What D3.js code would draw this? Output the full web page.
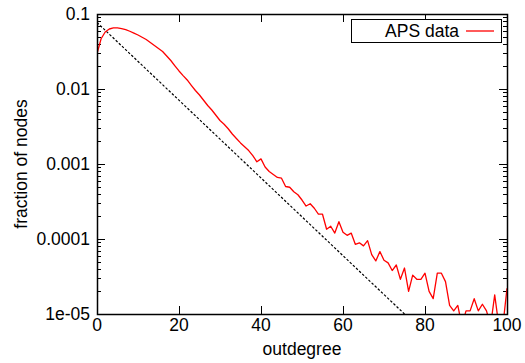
<!DOCTYPE html>
<html>
<head>
<meta charset="utf-8">
<script src="https://cdn.jsdelivr.net/npm/d3@7"></script>
<style>
  body { margin: 0; background: #fff; }
  svg text { font-family: "Liberation Sans", Arial, Helvetica, sans-serif; fill: #000; }
</style>
</head>
<body>
<svg id="chart" width="525" height="363"></svg>
<script>
// outdegree k = 0..100, fraction of nodes
var degrees = d3.range(0, 101);
var fractions = [
  0.0295, 0.0468, 0.0575, 0.0631, 0.0653, 0.0653, 0.0638, 0.0617, 0.0589, 0.0556,
  0.0525, 0.0490, 0.0457, 0.0417, 0.0380, 0.0347, 0.0316, 0.0275, 0.0240, 0.0204,
  0.0174, 0.0151, 0.0132, 0.0112, 0.00955, 0.00832, 0.00708, 0.00603, 0.00525, 0.00447,
  0.00380, 0.00339, 0.00295, 0.00251, 0.00219, 0.00191, 0.00170, 0.00151, 0.00129, 0.00107,
  0.00117, 0.000912, 0.000794, 0.000724, 0.000661, 0.000646, 0.000501, 0.000490, 0.000427, 0.000389,
  0.000331, 0.000275, 0.000295, 0.000257, 0.000214, 0.000214, 0.000135, 0.000148, 0.000120, 0.000170,
  0.000123, 0.000112, 0.000120, 8.5e-5, 8.9e-5, 8.1e-5, 9.5e-5, 6.2e-5, 5.1e-5, 6.8e-5,
  5.2e-5, 4.8e-5, 3.8e-5, 4.5e-5, 2.9e-5, 4.1e-5, 2.0e-5, 3.3e-5, 2.9e-5, 2.9e-5,
  3.5e-5, 2.0e-5, 1.6e-5, 3.5e-5, 3.5e-5, 2.7e-5, 1.3e-5, 1.1e-5, 1.3e-5, 7e-6,
  1.1e-5, 1.1e-5, 1.6e-5, 1.1e-5, 1.35e-5, 1.1e-5, 7e-6, 1.8e-5, 7e-6, 7e-6,
  2.2e-5
];
// dashed reference line (straight on log scale), end points
var fitX = [0, 75];
var fitY = [0.077, 1e-5];

var xTicks = [0, 20, 40, 60, 80, 100];
var yTicks = [0.1, 0.01, 0.001, 0.0001, 0.00001];
var yTickLabels = ["0.1", "0.01", "0.001", "0.0001", "1e-05"];

var svg = d3.select("#chart"),
    margin = {top: 14, right: 18, bottom: 49, left: 97},
    width = 525 - margin.left - margin.right,
    height = 363 - margin.top - margin.bottom;

var x = d3.scaleLinear().domain([0, 100]).range([0, width]);
var y = d3.scaleLog().domain([1e-5, 0.1]).range([height, 0]);

var g = svg.append("g")
    .attr("transform", "translate(" + margin.left + "," + margin.top + ")");

g.append("clipPath").attr("id", "clip")
  .append("rect").attr("width", width).attr("height", height);

// minor log ticks
var minor = [];
for (var e = -5; e < -1; e++) {
  for (var m = 2; m <= 9; m++) minor.push(m * Math.pow(10, e));
}

var tickG = g.append("g").attr("stroke", "#000").attr("stroke-width", 1);
minor.forEach(function(v) {
  var yy = Math.round(y(v)) + 0.5;
  tickG.append("line").attr("x1", 0).attr("x2", 4).attr("y1", yy).attr("y2", yy);
  tickG.append("line").attr("x1", width).attr("x2", width - 4).attr("y1", yy).attr("y2", yy);
});
yTicks.forEach(function(v) {
  var yy = Math.round(y(v)) + 0.5;
  tickG.append("line").attr("x1", 0).attr("x2", 8).attr("y1", yy).attr("y2", yy);
  tickG.append("line").attr("x1", width).attr("x2", width - 8).attr("y1", yy).attr("y2", yy);
});
xTicks.forEach(function(v) {
  var xx = Math.round(x(v)) + 0.5;
  tickG.append("line").attr("x1", xx).attr("x2", xx).attr("y1", height).attr("y2", height - 8);
  tickG.append("line").attr("x1", xx).attr("x2", xx).attr("y1", 0).attr("y2", 8);
});

// tick labels
g.selectAll(".ylab").data(yTicks).enter().append("text")
  .attr("class", "ylab")
  .attr("x", -7)
  .attr("y", function(d) { return y(d); })
  .attr("dy", "0.35em")
  .style("text-anchor", "end")
  .style("font-size", "17.5px")
  .text(function(d, i) { return yTickLabels[i]; });

g.selectAll(".xlab").data(xTicks).enter().append("text")
  .attr("class", "xlab")
  .attr("x", function(d) { return x(d); })
  .attr("y", height + 17)
  .style("text-anchor", "middle")
  .style("font-size", "17.5px")
  .text(function(d) { return d; });

// axis titles
g.append("text")
  .attr("x", width / 2)
  .attr("y", height + 41)
  .style("text-anchor", "middle")
  .style("font-size", "17.5px")
  .text("outdegree");

g.append("text")
  .attr("transform", "translate(" + (-70) + "," + (height / 2) + ") rotate(-90)")
  .style("text-anchor", "middle")
  .style("font-size", "17.5px")
  .text("fraction of nodes");

// dashed fit line
g.append("path")
  .datum(fitX.map(function(d, i) { return [d, fitY[i]]; }))
  .attr("clip-path", "url(#clip)")
  .attr("fill", "none")
  .attr("stroke", "#000")
  .attr("stroke-width", 1.2)
  .attr("stroke-dasharray", "2.5,1.8")
  .attr("d", d3.line().x(function(d) { return x(d[0]); }).y(function(d) { return y(d[1]); }));

// data curve
g.append("path")
  .datum(degrees.map(function(d, i) { return [d, fractions[i]]; }))
  .attr("clip-path", "url(#clip)")
  .attr("fill", "none")
  .attr("stroke", "#ff0000")
  .attr("stroke-width", 1.3)
  .attr("stroke-linejoin", "round")
  .attr("d", d3.line().x(function(d) { return x(d[0]); }).y(function(d) { return y(d[1]); }));

// border
g.append("rect")
  .attr("x", 0.5).attr("y", 0.5)
  .attr("width", width).attr("height", height)
  .attr("fill", "none").attr("stroke", "#000").attr("stroke-width", 1.5);

// legend
var leg = g.append("g").attr("transform", "translate(" + (351 - margin.left) + "," + (19 - margin.top) + ")");
leg.append("rect")
  .attr("x", 0.5).attr("y", 0.5).attr("width", 150).attr("height", 23)
  .attr("fill", "#fff").attr("stroke", "#000").attr("stroke-width", 1);
leg.append("text")
  .attr("x", 108).attr("y", 18)
  .style("text-anchor", "end")
  .style("font-size", "17.5px")
  .text("APS data");
leg.append("line")
  .attr("x1", 115).attr("x2", 143).attr("y1", 12).attr("y2", 12)
  .attr("stroke", "#ff0000").attr("stroke-width", 1.3);
</script>
</body>
</html>
